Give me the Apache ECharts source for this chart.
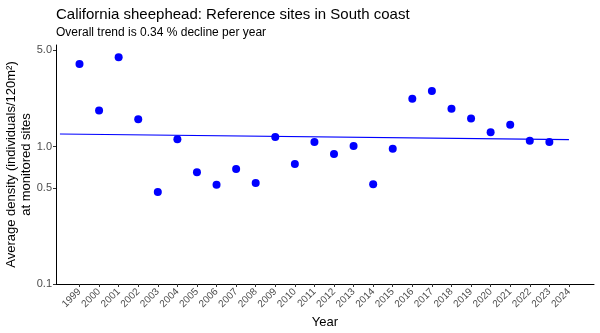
<!DOCTYPE html>
<html>
<head>
<meta charset="utf-8">
<script src="https://cdn.jsdelivr.net/npm/echarts@6/dist/echarts.min.js"></script>
<style>html,body{margin:0;padding:0;background:#fff}#c{width:600px;height:333px}</style>
</head>
<body>
<div id="c"></div>
<script>
const years = [1999,2000,2001,2002,2003,2004,2005,2006,2007,2008,2009,2010,2011,2012,2013,2014,2015,2016,2017,2018,2019,2020,2021,2022,2023];
const density = [3.98,1.83,4.45,1.58,0.467,1.13,0.649,0.527,0.686,0.543,1.17,0.746,1.08,0.882,1.01,0.531,0.964,2.22,2.53,1.88,1.60,1.27,1.44,1.10,1.08];
const trendYears = [1998, 2024];
const trendValues = [1.233, 1.121];
const xTickLabels = [1999,2000,2001,2002,2003,2004,2005,2006,2007,2008,2009,2010,2011,2012,2013,2014,2015,2016,2017,2018,2019,2020,2021,2022,2023,2024];
const yTickLabels = [0.1, 0.5, 1.0, 5.0];

const font = 'Liberation Sans, Arial, sans-serif';
const chart = echarts.init(document.getElementById('c'), null, {renderer: 'canvas'});
chart.setOption({
  animation: false,
  backgroundColor: '#fff',
  title: {
    text: 'California sheephead: Reference sites in South coast',
    subtext: 'Overall trend is 0.34 % decline per year',
    left: 51, top: 2, itemGap: 5,
    textStyle: {fontFamily: font, fontSize: 15, fontWeight: 'normal', color: '#000'},
    subtextStyle: {fontFamily: font, fontSize: 12, color: '#000'}
  },
  grid: {left: 56, right: 6, top: 45, bottom: 49, containLabel: false, outerBoundsMode: 'none'},
  xAxis: {
    type: 'value', min: 1997.8, max: 2025.28,
    name: 'Year', nameLocation: 'middle', nameGap: 32, nameMoveOverlap: false,
    nameTextStyle: {fontFamily: font, fontSize: 13, color: '#000'},
    axisLine: {show: true, lineStyle: {color: '#000', width: 1}},
    axisTick: {show: true, length: 3, lineStyle: {color: '#333'}, customValues: xTickLabels},
    axisLabel: {rotate: 45, fontFamily: font, fontSize: 10, color: '#4d4d4d', margin: 6, customValues: xTickLabels, formatter: v => String(v)},
    splitLine: {show: false}
  },
  yAxis: {
    type: 'log', logBase: 10, min: 0.1, max: 5.47,
    name: 'Average density (individuals/120m²)\nat monitored sites',
    nameLocation: 'middle', nameGap: 22, nameRotate: 90, nameMoveOverlap: false,
    nameTextStyle: {fontFamily: font, fontSize: 13, color: '#000', lineHeight: 15},
    axisLine: {show: true, lineStyle: {color: '#000', width: 1}},
    axisTick: {show: true, length: 3, lineStyle: {color: '#333'}, customValues: yTickLabels},
    axisLabel: {fontFamily: font, fontSize: 11, color: '#4d4d4d', margin: 4, customValues: yTickLabels, formatter: v => Number(v).toFixed(1)},
    splitLine: {show: false}
  },
  series: [
    {
      type: 'line', data: trendYears.map((y, i) => [y, trendValues[i]]),
      showSymbol: false, symbol: 'none', lineStyle: {color: '#0000ff', width: 1.2}, silent: true, z: 1
    },
    {
      type: 'scatter', data: years.map((y, i) => [y, density[i]]),
      symbolSize: 8, itemStyle: {color: '#0000ff', opacity: 1}, z: 2
    }
  ]
});
</script>
</body>
</html>
